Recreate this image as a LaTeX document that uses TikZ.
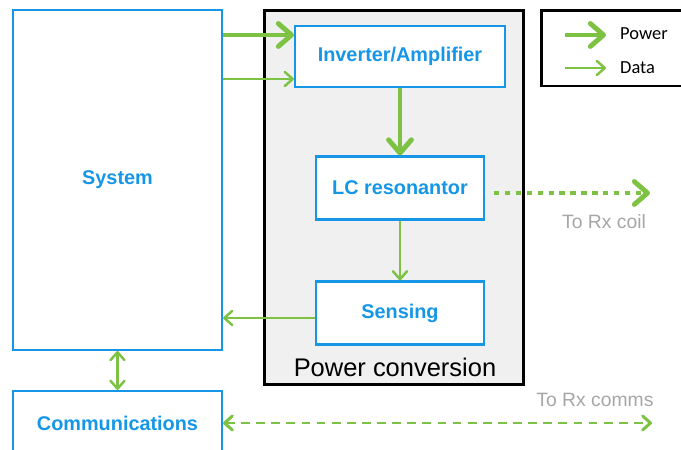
\documentclass[tikz,border=0pt]{standalone}
\usepackage{fontspec}
\setmainfont{Liberation Sans}
\newfontfamily\legendfont{Carlito}
\usetikzlibrary{arrows.meta}
\definecolor{boxblue}{RGB}{22,150,230}
\definecolor{wptgreen}{RGB}{125,194,66}
\definecolor{notegray}{RGB}{166,166,166}
\definecolor{panelgray}{RGB}{240,240,240}
\begin{document}
\begin{tikzpicture}[x=0.02cm, y=-0.02cm,
   every node/.style={font=\fontsize{11.3}{13}\selectfont\bfseries, text=boxblue},
   block/.style={draw=boxblue, line width=1.2pt, fill=white, minimum width=3.36cm, minimum height=1.26cm},
   power/.style={draw=wptgreen, line width=2.8pt, -{Straight Barb[length=7.5pt,width=13pt,round]}},
   data/.style={draw=wptgreen, line width=1.4pt, -{Straight Barb[length=4.5pt,width=8pt,round]}},
   twoway/.style={data, {Straight Barb[length=4.5pt,width=8pt,round]}-{Straight Barb[length=4.5pt,width=8pt,round]}},
   note/.style={font=\fontsize{11}{13}\selectfont, text=notegray},
   legendtext/.style={font=\legendfont\fontsize{10.5}{13}\selectfont, text=black, anchor=west}]
\useasboundingbox (0,0) rectangle (681,450);
\node[draw=black, line width=1.7pt, fill=panelgray, minimum width=5.2cm, minimum height=7.5cm] (conv) at (394,197.5) {};
\node[font=\fontsize{14.5}{17}\selectfont, text=black] (convlabel) at (395,367) {Power conversion};
\node[block, minimum width=4.18cm, minimum height=6.8cm] (sys) at (117.5,180) {System};
\node[block, minimum width=4.18cm, minimum height=1.28cm] (comm) at (117.5,423) {Communications};
\node[block, minimum width=4.2cm, minimum height=1.22cm] (inv) at (400,56.5) {Inverter/Amplifier};
\node[block] (lc) at (400,188) {LC resonantor};
\node[block] (sens) at (400,313) {Sensing};
\node[draw=black, line width=1.7pt, minimum width=2.86cm, minimum height=1.52cm] (legend) at (613,48) {};
\coordinate (pw0) at (565,35);
\coordinate (pw1) at (606,35);
\coordinate (dt0) at (565,68);
\coordinate (dt1) at (606,68);
\draw[power] (pw0) -- (pw1);
\draw[data] (dt0) -- (dt1);
\node[legendtext] (pwtext) at (614,34) {Power};
\node[legendtext] (dttext) at (614,68) {Data};
\path ([shift={(0,-21.5)}]inv.west) coordinate (pin)
      ([shift={(0,22.5)}]inv.west) coordinate (din)
      ([shift={(0,5)}]sens.west) coordinate (sout)
      (650,193) coordinate (rxcoil)
      (652,423) coordinate (rxcomm);
\draw[power] (sys.east |- pin) -- (pin);
\draw[data] (sys.east |- din) -- (din);
\draw[power] (inv.south) -- (lc.north);
\draw[data] (lc.south) -- (sens.north);
\draw[data] (sout) -- (sys.east |- sout);
\draw[power, dash pattern=on 3.1pt off 3.1pt] ([shift={(9,5)}]lc.east) -- (rxcoil);
\draw[twoway] (sys.south) -- (comm.north);
\draw[twoway, line width=1.7pt, dash pattern=on 5pt off 3.6pt] (comm.east) -- (rxcomm);
\node[note] (coilnote) at (604,222) {To Rx coil};
\node[note] (commnote) at (595,400) {To Rx comms};
\end{tikzpicture}
\end{document}
